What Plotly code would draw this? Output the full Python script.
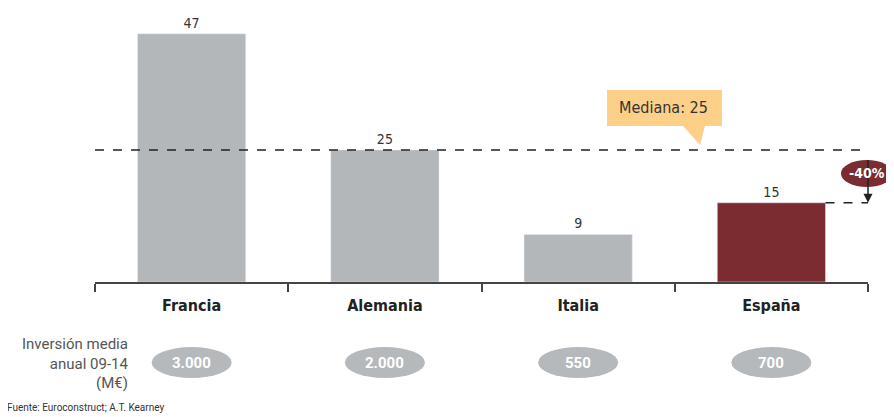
import plotly.graph_objects as go

paises = ["Francia", "Alemania", "Italia", "España"]
valores = [47, 25, 9, 15]
inversion = ["3.000", "2.000", "550", "700"]
colores = ["#b3b7ba", "#b3b7ba", "#b3b7ba", "#7b2c31"]
mediana = 25
espana = 15
caida = "-40%"

narrow = "Liberation Sans Narrow, DejaVu Sans Condensed"

fig = go.Figure()
fig.add_bar(x=paises, y=valores,
            marker_color=colores,
            width=0.56,
            text=valores,
            textposition="outside",
            cliponaxis=False,
            textfont=dict(size=14, color="#333", family=narrow))

# linea de la mediana y referencia de España
fig.add_shape(type="line", xref="x", yref="y", x0=-0.5, x1=3.5, y0=mediana, y1=mediana,
              line=dict(color="#222", width=1.5, dash="dash"))
fig.add_shape(type="line", xref="x", yref="y", x0=3.28, x1=3.5, y0=espana, y1=espana,
              line=dict(color="#222", width=1.5, dash="dash"))
fig.add_annotation(x=3.5, y=espana, xref="x", yref="y", ax=3.5, ay=mediana,
                   axref="x", ayref="y", text=" ", showarrow=True,
                   arrowhead=2, arrowsize=1.2, arrowwidth=1.5, arrowcolor="#222", standoff=0)

# burbuja -40%
fig.add_shape(type="circle", xref="paper", yref="paper", x0=0.965, x1=1.032, y0=0.349, y1=0.4485,
              fillcolor="#7b2c31", line=dict(width=0))
fig.add_annotation(x=0.9987, y=0.4007, xref="paper", yref="paper", xanchor="center", yanchor="middle",
                   text="<b>" + caida + "</b>", showarrow=False,
                   font=dict(size=14, color="white", family=narrow))

# globo "Mediana"
fig.add_shape(type="path", xref="paper", yref="paper",
              path="M 0.6624,0.7059 L 0.8111,0.7059 L 0.8111,0.5735 L 0.789,0.5735 "
                   "L 0.7827,0.5037 L 0.7607,0.5735 L 0.6624,0.5735 Z",
              fillcolor="#fdd08a", line=dict(width=0))
fig.add_annotation(x=0.736, y=0.640, xref="paper", yref="paper", xanchor="center", yanchor="middle",
                   text="Mediana: " + str(mediana), showarrow=False,
                   font=dict(size=16, color="#333", family=narrow))

# pastillas de inversion
for i, v in enumerate(inversion):
    fig.add_shape(type="circle", xref="x", yref="paper", x0=i - 0.207, x1=i + 0.207,
                  y0=-0.353, y1=-0.239, fillcolor="#b5b9bc", line=dict(width=0))
    fig.add_annotation(x=i, y=-0.296, xref="x", yref="paper", xanchor="center", yanchor="middle",
                       text="<b>" + v + "</b>", showarrow=False,
                       font=dict(size=15, color="white", family="Roboto"))

fig.add_annotation(x=0.045, y=-0.301, xref="paper", yref="paper", xanchor="right", yanchor="middle",
                   align="right", text="Inversión media<br>anual 09-14<br>(M€)", showarrow=False,
                   font=dict(size=15, color="#555", family="Roboto"))
fig.add_annotation(x=-0.1164, y=-0.463, xref="paper", yref="paper", xanchor="left", yanchor="middle",
                   text="Fuente: Euroconstruct; A.T. Kearney", showarrow=False,
                   font=dict(size=10, color="#333", family="Roboto"))

fig.update_xaxes(showline=True, linecolor="#444", linewidth=1.5,
                 ticks="outside", tickson="boundaries", ticklen=8, tickwidth=1.5, tickcolor="#444",
                 tickfont=dict(size=16, color="#222", family=narrow),
                 tickprefix="<b>", ticksuffix="</b>", ticklabelstandoff=8,
                 range=[-0.5, 3.5], showgrid=False)
fig.update_yaxes(visible=False, range=[0, 51.5])
# la pagina tiene 8px de margen, asi que la figura es 8px menor
fig.update_layout(width=886, height=409,
                  margin=dict(l=87, r=26, t=2, b=135),
                  plot_bgcolor="white", paper_bgcolor="white",
                  showlegend=False)
fig.write_html("out.html")
